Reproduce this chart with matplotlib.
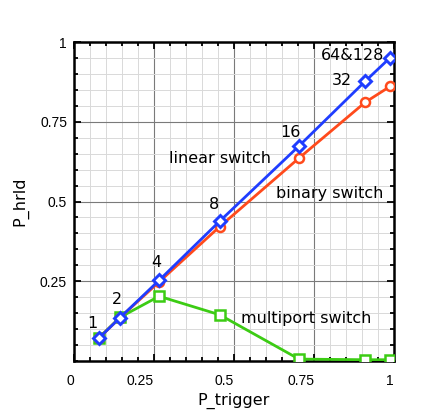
import numpy as np
import matplotlib.pyplot as plt
from matplotlib.ticker import MultipleLocator

# data (one point per port count)
port_labels = ['1', '2', '4', '8', '16', '32', '64&128']
p_trigger = [0.077, 0.144, 0.266, 0.455, 0.703, 0.910, 0.988]
linear_switch = [0.071, 0.136, 0.253, 0.438, 0.674, 0.877, 0.951]
binary_switch = [0.071, 0.136, 0.248, 0.421, 0.636, 0.811, 0.861]
multiport_switch = [0.072, 0.137, 0.203, 0.145, 0.006, 0.004, 0.004]

label_pos = [(0.059, 0.119), (0.134, 0.194), (0.256, 0.310), (0.438, 0.492),
             (0.675, 0.715), (0.838, 0.878), (0.872, 0.959)]

ann_font = 'DejaVu Sans'
tick_font = 'Liberation Sans'

fig = plt.figure(figsize=(4.36, 4.13), dpi=100)
ax = fig.add_axes([0.1697, 0.1259, 0.734, 0.7724])

ax.plot(p_trigger, multiport_switch, color='#3ccc14', lw=2, marker='s',
        ms=6.5, mfc='white', mew=1.8, zorder=3)
ax.plot(p_trigger, binary_switch, color='#ff4a1c', lw=2, marker='o',
        ms=6.5, mfc='white', mew=1.8, zorder=4)
ax.plot(p_trigger, linear_switch, color='#1f3dff', lw=2, marker='D',
        ms=6, mfc='white', mew=2.1, zorder=5)

for lab, (lx, ly) in zip(port_labels, label_pos):
    ax.text(lx, ly, lab, ha='center', va='center', fontsize=11.5,
            family=ann_font, zorder=6)

ax.text(0.456, 0.636, 'linear switch', ha='center', va='center',
        fontsize=11.5, family=ann_font)
ax.text(0.800, 0.524, 'binary switch', ha='center', va='center',
        fontsize=11.5, family=ann_font)
ax.text(0.725, 0.132, 'multiport switch', ha='center', va='center',
        fontsize=11.5, family=ann_font)

ax.set_xlim(0, 1)
ax.set_ylim(0, 1)

ax.xaxis.set_major_locator(MultipleLocator(0.25))
ax.yaxis.set_major_locator(MultipleLocator(0.25))
ax.xaxis.set_minor_locator(MultipleLocator(0.05))
ax.yaxis.set_minor_locator(MultipleLocator(0.05))

ax.grid(which='major', color='#7a7a7a', lw=0.8)
ax.grid(which='minor', color='#d9d9d9', lw=0.7)
ax.set_axisbelow(True)

ax.tick_params(which='both', direction='in', top=True, right=True, width=1.3)
ax.tick_params(which='major', length=5)
ax.tick_params(which='minor', length=3)
ax.tick_params(axis='x', pad=9)
ax.tick_params(axis='y', pad=5)

ax.set_xticks([0, 0.25, 0.5, 0.75, 1])
ax.set_xticklabels(['0', '0.25', '0.5', '0.75', '1'], family=tick_font, fontsize=10, ha='right')
ax.set_yticks([0.25, 0.5, 0.75, 1])
ax.set_yticklabels(['0.25', '0.5', '0.75', '1'], family=tick_font, fontsize=10)

for s in ax.spines.values():
    s.set_linewidth(1.8)

ax.set_xlabel('P_trigger', family=ann_font, fontsize=11.5, labelpad=4)
ax.set_ylabel('P_hrld', family=ann_font, fontsize=11.5, labelpad=8)

plt.savefig('out.png', dpi=100)
